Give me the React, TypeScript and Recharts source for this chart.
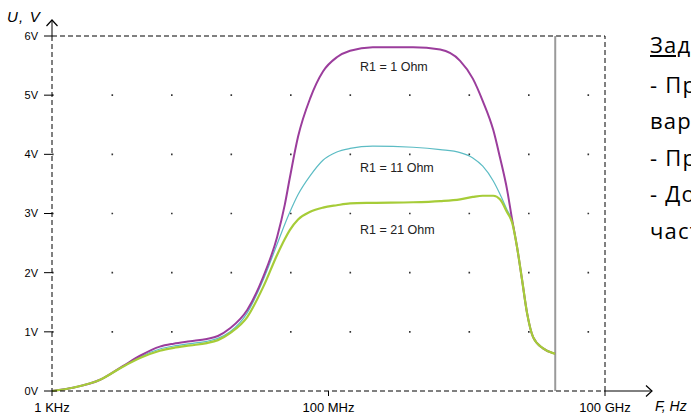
import React from 'react';
import {
  ComposedChart,
  Line,
  XAxis,
  YAxis,
  CartesianGrid,
  ReferenceLine,
  ReferenceDot,
} from 'recharts';

// Position along the frequency axis (0 = 1 KHz, 50 = 100 MHz, 100 = 100 GHz)
const freqPos = [0, 4, 8.7, 12.8, 16, 19.5, 22, 25, 28, 30, 32.2, 35.3, 38.2, 40.7, 42.1, 43, 44.5, 46.7, 49, 51.5, 53.9, 58, 65.3, 70.2, 73.8, 76.1, 77.9, 79.8, 81, 82.3, 83.2, 84.1, 85, 85.9, 87, 88.8, 90.6, 91];

// Output voltage, V
const r1Ohm = [0, 0.06, 0.19, 0.42, 0.6, 0.75, 0.8, 0.84, 0.88, 0.93, 1.06, 1.37, 1.93, 2.6, 3.15, 3.6, 4.3, 4.95, 5.4, 5.64, 5.75, 5.81, 5.81, 5.77, 5.58, 5.28, 4.9, 4.41, 3.95, 3.4, 2.9, 2.43, 1.88, 1.32, 0.91, 0.72, 0.64, 0.63];
const r11Ohm = [0, 0.06, 0.19, 0.41, 0.58, 0.71, 0.76, 0.8, 0.84, 0.89, 1.0, 1.32, 1.88, 2.48, 2.82, 3.02, 3.32, 3.64, 3.9, 4.04, 4.1, 4.14, 4.12, 4.08, 4.03, 3.94, 3.8, 3.55, 3.33, 3.06, 2.88, 2.43, 1.88, 1.32, 0.91, 0.72, 0.64, 0.63];
const r21Ohm = [0, 0.06, 0.19, 0.41, 0.56, 0.68, 0.73, 0.77, 0.81, 0.86, 0.98, 1.25, 1.76, 2.3, 2.57, 2.72, 2.9, 3.03, 3.1, 3.14, 3.17, 3.18, 3.19, 3.21, 3.24, 3.28, 3.3, 3.3, 3.24, 3.02, 2.85, 2.43, 1.88, 1.32, 0.91, 0.72, 0.64, 0.63];

const xTickValues = [0, 50, 100];
const xTickLabels = ['1 KHz', '100 MHz', '100 GHz'];
const yTickValues = [0, 1, 2, 3, 4, 5, 6];
const gridValues = [1, 2, 3, 4, 5];

const curveLabels = ['R1 = 1 Ohm', 'R1 = 11 Ohm', 'R1 = 21 Ohm'];
const curveLabelX = [55.7, 55.7, 55.7];
const curveLabelY = [5.49, 3.78, 2.74];

const markerFreqPos = 91;

const taskLines = ['Задание:', '- Провести моделирование', 'вариантов', '- Проверить', '- Добавить', 'частоты'];

const data = freqPos.map((x, i) => ({ x, a: r1Ohm[i], b: r11Ohm[i], c: r21Ohm[i] }));

const FONT = '"Liberation Sans", Arial, sans-serif';

const CurveLabel = (props: any) => {
  const { viewBox, value } = props;
  return (
    <text x={viewBox.x} y={viewBox.y} dy={5} fontFamily={FONT} fontSize={12.5} fill="#222" textAnchor="start">
      {value}
    </text>
  );
};

export default function App() {
  return (
    <div style={{ position: 'fixed', left: 0, top: 0, width: 691, height: 417, overflow: 'hidden', background: '#fff' }}>
      <div style={{ position: 'absolute', left: 0, top: 0 }}>
        <ComposedChart width={691} height={417} data={data} margin={{ top: 36, right: 86, bottom: 6, left: 12 }}>
          <CartesianGrid
            horizontal
            vertical={false}
            horizontalValues={gridValues}
            stroke="#333"
            strokeWidth={1.6}
            strokeDasharray="1.6 57.9"
          />
          <XAxis
            dataKey="x"
            type="number"
            domain={[0, 100]}
            ticks={xTickValues}
            tickFormatter={(v: number) => xTickLabels[xTickValues.indexOf(v)]}
            height={20}
            tickSize={5}
            tickMargin={7}
            interval={0}
            axisLine={{ stroke: '#000', strokeDasharray: '5 3' }}
            tickLine={{ stroke: '#000' }}
            tick={{ fontFamily: FONT, fontSize: 13, fill: '#000' }}
            allowDataOverflow
          />
          <YAxis
            type="number"
            domain={[0, 6]}
            ticks={yTickValues}
            tickFormatter={(v: number) => `${v}V`}
            width={40}
            tickSize={8}
            tickMargin={6}
            interval={0}
            axisLine={{ stroke: '#000', strokeDasharray: '5 3' }}
            tickLine={{ stroke: '#000' }}
            tick={{ fontFamily: FONT, fontSize: 11, fill: '#000' }}
          />
          <ReferenceLine y={6} stroke="#000" strokeDasharray="5 3" />
          <ReferenceLine x={100} stroke="#000" strokeDasharray="5 3" />
          <ReferenceLine x={markerFreqPos} stroke="#9a9a9a" strokeWidth={2} />
          <Line type="monotone" dataKey="b" stroke="#5cbcc4" strokeWidth={1.2} dot={false} isAnimationActive={false} />
          <Line type="monotone" dataKey="a" stroke="#9b3d9c" strokeWidth={2} dot={false} isAnimationActive={false} />
          <Line type="monotone" dataKey="c" stroke="#a6cc38" strokeWidth={2.2} dot={false} isAnimationActive={false} />
          {curveLabels.map((t, i) => (
            <ReferenceDot
              key={t}
              x={curveLabelX[i]}
              y={curveLabelY[i]}
              r={0}
              fill="none"
              stroke="none"
              label={<CurveLabel value={t} />}
            />
          ))}
        </ComposedChart>
      </div>
      <svg width={691} height={417} style={{ position: 'absolute', left: 0, top: 0, pointerEvents: 'none' }}>
        <line x1={52} y1={36} x2={52} y2={20} stroke="#000" strokeWidth={1} />
        <polyline points="46.5,26 52,20 57.5,26" fill="none" stroke="#000" strokeWidth={1.2} />
        <line x1={605} y1={391} x2={652} y2={391} stroke="#000" strokeWidth={1} />
        <polyline points="646,385.5 652,391 646,396.5" fill="none" stroke="#000" strokeWidth={1.2} />
        <text x={7} y={22} fontFamily={FONT} fontStyle="italic" fontSize={15} letterSpacing={1.2} fill="#000">U, V</text>
        <text x={655} y={411} fontFamily={FONT} fontStyle="italic" fontSize={14} fill="#000">F, Hz</text>
      </svg>
      <div style={{ position: 'absolute', left: 650, top: 0, width: 500, fontFamily: '"Open Sans", "Noto Sans", sans-serif', fontSize: 22, letterSpacing: 1.2, color: '#000', whiteSpace: 'nowrap' }}>
        {taskLines.map((t, i) => (
          <div key={i} style={{ position: 'absolute', left: 0, top: i === 0 ? 30 : 33 + i * 36.6, lineHeight: '28px', textDecoration: i === 0 ? 'underline' : 'none', textUnderlineOffset: 2 }}>
            {t}
          </div>
        ))}
      </div>
    </div>
  );
}
